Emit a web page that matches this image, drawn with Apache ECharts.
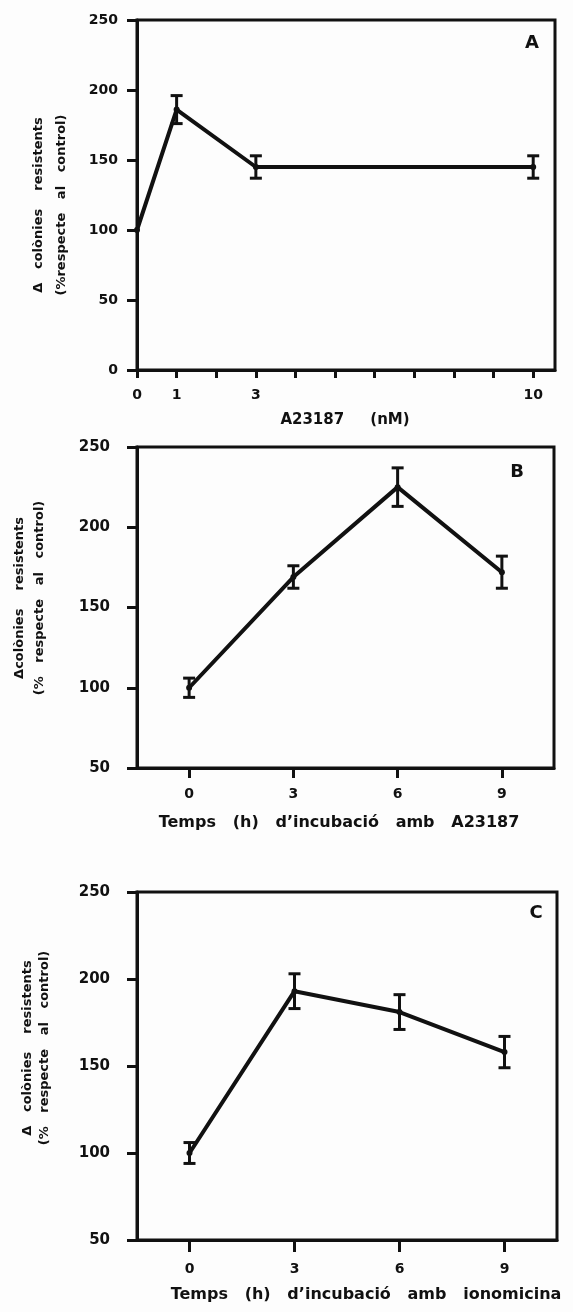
<!DOCTYPE html>
<html>
<head>
<meta charset="utf-8">
<script src="https://cdn.jsdelivr.net/npm/echarts@6/dist/echarts.min.js"></script>
<style>
  html, body { margin: 0; padding: 0; background: #fdfdfd; }
  #chart { width: 573px; height: 1312px; }
</style>
</head>
<body>
<div id="chart"></div>
<script>
// Panel A: ionophore A23187 concentration (nM)
const concA = [0, 1, 3, 10];
const meanA = [100, 186, 145, 145];
const errA  = [0, 10, 8, 8];
const ticksA = [0, 1, 2, 3, 4, 5, 6, 7, 8, 9, 10];
const labelsA = [0, 1, 3, 10];

// Panel B: incubation time (h) with A23187
const timeB = [0, 3, 6, 9];
const meanB = [100, 169, 225, 172];
const errB  = [6, 7, 12, 10];

// Panel C: incubation time (h) with ionomicina
const timeC = [0, 3, 6, 9];
const meanC = [100, 193, 181, 158];
const errC  = [6, 10, 10, 9];
const ticksBC = [0, 3, 6, 9];

const ink = '#111';
const FONT = '"DejaVu Sans", "Liberation Sans", sans-serif';

const chart = echarts.init(document.getElementById('chart'), null, { renderer: 'canvas' });

function pairs(xs, ys) { return xs.map((x, i) => [x, ys[i]]); }
function bars(xs, ys, es) {
  return xs.map((x, i) => [x, ys[i] - es[i], ys[i] + es[i]]).filter((d, i) => es[i] > 0);
}

// I-shaped error bars drawn through the axis scales
function errorRender(params, api) {
  const x = api.value(0);
  const lo = api.coord([x, api.value(1)]);
  const hi = api.coord([x, api.value(2)]);
  const cap = 6;
  const style = { stroke: ink, lineWidth: 3 };
  return {
    type: 'group',
    children: [
      { type: 'line', shape: { x1: lo[0], y1: lo[1], x2: hi[0], y2: hi[1] }, style },
      { type: 'line', shape: { x1: lo[0] - cap, y1: lo[1], x2: lo[0] + cap, y2: lo[1] }, style },
      { type: 'line', shape: { x1: hi[0] - cap, y1: hi[1], x2: hi[0] + cap, y2: hi[1] }, style }
    ]
  };
}

function xAxisDef(idx, min, max, ticks, labels, margin, tickLen) {
  return {
    type: 'value', gridIndex: idx, min, max,
    splitLine: { show: false },
    axisLine: { show: true, onZero: false, lineStyle: { color: ink, width: 3 } },
    axisTick: { show: true, inside: false, length: tickLen, customValues: ticks, lineStyle: { color: ink, width: 3 } },
    axisLabel: { show: true, customValues: labels, margin, color: ink, fontFamily: FONT, fontWeight: 'bold', fontSize: 14 }
  };
}
function yAxisDef(idx, min, max, margin, fontSize) {
  return {
    type: 'value', gridIndex: idx, min, max, interval: 50,
    splitLine: { show: false },
    axisLine: { show: true, onZero: false, lineStyle: { color: ink, width: 3 } },
    axisTick: { show: true, inside: false, length: 10, lineStyle: { color: ink, width: 3 } },
    axisLabel: { margin, color: ink, fontFamily: FONT, fontWeight: 'bold', fontSize }
  };
}
function lineSeries(idx, data) {
  return {
    type: 'line', xAxisIndex: idx, yAxisIndex: idx, data,
    symbol: 'circle', symbolSize: 6, showSymbol: true,
    lineStyle: { color: ink, width: 4 }, itemStyle: { color: ink },
    z: 3, animation: false
  };
}
function errSeries(idx, data) {
  return {
    type: 'custom', xAxisIndex: idx, yAxisIndex: idx, data,
    renderItem: errorRender, encode: { x: 0, y: [1, 2] }, z: 4, animation: false
  };
}
function txt(x, y, text, size, rot, lh) {
  return {
    type: 'text', x, y, rotation: rot || 0,
    style: {
      text, fill: ink, font: 'bold ' + size + 'px ' + FONT,
      align: 'center', verticalAlign: 'middle', lineHeight: lh || size
    }
  };
}

const gridStyle = { show: true, borderColor: ink, borderWidth: 3, backgroundColor: 'transparent' };

chart.setOption({
  backgroundColor: '#fdfdfd',
  animation: false,
  grid: [
    Object.assign({ left: 137, top: 20, width: 418, height: 350 }, gridStyle),
    Object.assign({ left: 137, top: 447, width: 417, height: 321 }, gridStyle),
    Object.assign({ left: 137, top: 892, width: 420, height: 348 }, gridStyle)
  ],
  xAxis: [
    xAxisDef(0, 0, 10.55, ticksA, labelsA, 18, 8),
    xAxisDef(1, -1.5, 10.5, ticksBC, ticksBC, 19, 10),
    xAxisDef(2, -1.5, 10.5, ticksBC, ticksBC, 22, 12)
  ],
  yAxis: [
    yAxisDef(0, 0, 250, 19, 14),
    yAxisDef(1, 50, 250, 27, 15),
    yAxisDef(2, 50, 250, 27, 15)
  ],
  series: [
    lineSeries(0, pairs(concA, meanA)),
    errSeries(0, bars(concA, meanA, errA)),
    lineSeries(1, pairs(timeB, meanB)),
    errSeries(1, bars(timeB, meanB, errB)),
    lineSeries(2, pairs(timeC, meanC)),
    errSeries(2, bars(timeC, meanC, errC))
  ],
  graphic: [
    txt(532, 43, 'A', 18),
    txt(517, 472, 'B', 18),
    txt(536, 913, 'C', 18),
    txt(345, 420, 'A23187     (nM)', 15),
    txt(339, 823, 'Temps   (h)   d\u2019incubació   amb   A23187', 16),
    txt(366, 1295, 'Temps   (h)   d\u2019incubació   amb   ionomicina', 16),
    txt(50, 205, '\u0394   colònies    resistents\n(%respecte   al   control)', 13, Math.PI / 2, 23),
    txt(30, 598, '\u0394colònies    resistents\n(%   respecte   al   control)', 13, Math.PI / 2, 20),
    txt(36, 1048, '\u0394   colònies    resistents\n(%   respecte   al   control)', 13, Math.PI / 2, 17)
  ]
});
</script>
</body>
</html>
